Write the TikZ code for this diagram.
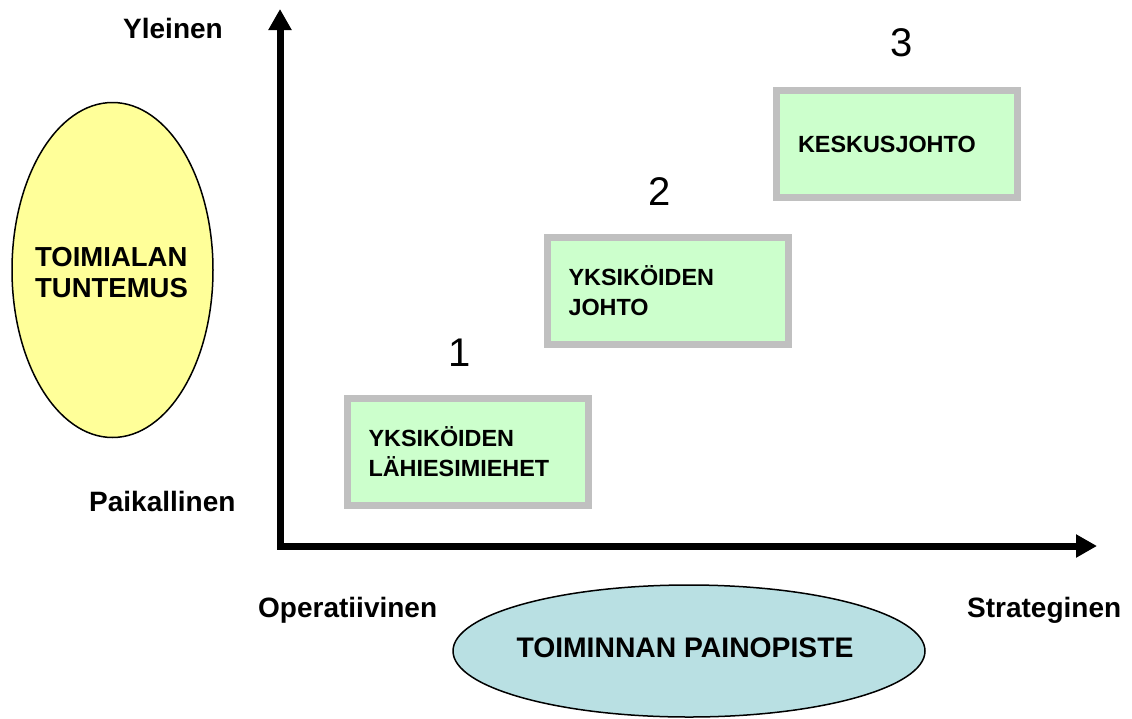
\documentclass[tikz,border=0pt]{standalone}
\usepackage{fontspec}
\setmainfont{Liberation Sans}
\usetikzlibrary{arrows.meta,shapes.geometric}

\definecolor{boxgreen}{HTML}{CCFFCC}
\definecolor{boxgray}{HTML}{C0C0C0}
\definecolor{ellyellow}{HTML}{FFFF99}
\definecolor{ellblue}{HTML}{B9E0E3}

\tikzset{
  axis/.style={line width=7pt, line cap=rect, -{Triangle[length=21pt,width=22pt]}},
  levelbox/.style={rectangle, draw=boxgray, fill=boxgreen, line width=7pt,
    minimum width=241pt, minimum height=107pt, inner xsep=21.5pt,
    text width=198pt, align=left,
    font=\bfseries\fontsize{23.4}{30}\selectfont},
  axlabel/.style={anchor=base west, inner sep=0pt, font=\bfseries\fontsize{28}{32}\selectfont},
  levelnum/.style={inner sep=0pt, font=\fontsize{40}{44}\selectfont},
  topic/.style={ellipse, draw=black, line width=1.5pt, inner sep=0pt},
  topictext/.style={inner sep=0pt, font=\bfseries\fontsize{27.5}{31}\selectfont}
}

\begin{document}
\begin{tikzpicture}[x=1pt, y=-1pt]
  \useasboundingbox (0,0) rectangle (1132,718);

  % axes
  \coordinate (origin) at (280,546);
  \coordinate (ytop) at (280,9);
  \coordinate (xend) at (1097,546);
  \draw[axis] (origin) -- (ytop);
  \draw[axis] (origin) -- (xend);

  % axis labels
  \node[axlabel] (yhigh) at (123,38) {Yleinen};
  \node[axlabel] (ylow) at (89,511) {Paikallinen};
  \node[axlabel] (xlow) at (258,617) {Operatiivinen};
  \node[axlabel] (xhigh) at (967,617) {Strateginen};

  % dimension ellipses
  \node[topic, fill=ellyellow, minimum width=201pt, minimum height=335pt]
    (knowledge) at (112.5,270) {};
  \node[topictext, align=left] (knowledgetext) at (111.5,273) {TOIMIALAN\\TUNTEMUS};
  \node[topic, fill=ellblue, minimum width=472pt, minimum height=132pt]
    (focus) at (689,651) {};
  \node[topictext, font=\bfseries\fontsize{28.3}{32}\selectfont]
    (focustext) at (685,648) {TOIMINNAN PAINOPISTE};

  % management levels
  \node[levelbox] (lvl1) at (467.5,451.5) {YKSIKÖIDEN\\LÄHIESIMIEHET};
  \node[levelbox] (lvl2) at (667.5,291) {YKSIKÖIDEN\\JOHTO};
  \node[levelbox] (lvl3) at (897,144) {KESKUSJOHTO};

  \node[levelnum] (n1) at (460,353) {1};
  \node[levelnum] (n2) at (660,192) {2};
  \node[levelnum] (n3) at (902,43) {3};
\end{tikzpicture}
\end{document}
